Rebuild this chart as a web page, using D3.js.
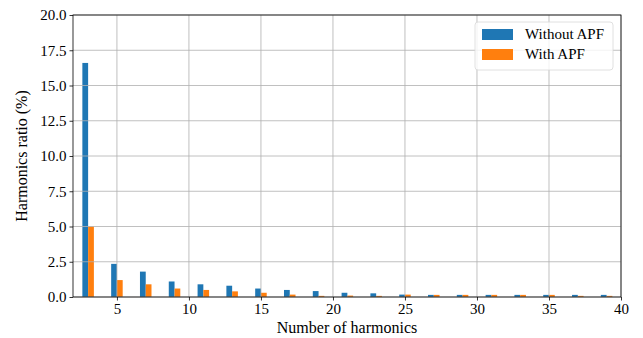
<!DOCTYPE html>
<html>
<head>
  <meta charset="UTF-8">
  <title>Harmonics ratio</title>
  <script src="https://d3js.org/d3.v7.min.js"></script>
  <style>
    body { margin: 0; background: #fff; }
    .axis path, .axis line { stroke: #000; stroke-width: 0.8; }
    .grid line { stroke: #b0b0b0; stroke-width: 0.8; }
  </style>
</head>
<body>
  <div id="chart"></div>
  <script>
    // harmonic orders and ratios (%)
    const harmonics = [3, 5, 7, 9, 11, 13, 15, 17, 19, 21, 23, 25, 27, 29, 31, 33, 35, 37, 39];
    const withoutAPF = [16.6, 2.35, 1.8, 1.1, 0.9, 0.8, 0.6, 0.5, 0.42, 0.3, 0.26, 0.17, 0.15, 0.15, 0.15, 0.15, 0.15, 0.15, 0.15];
    const withAPF = [5.0, 1.2, 0.9, 0.6, 0.5, 0.4, 0.3, 0.17, 0.08, 0.1, 0.08, 0.17, 0.15, 0.15, 0.15, 0.15, 0.15, 0.08, 0.08];
    const xTicks = [5, 10, 15, 20, 25, 30, 35, 40];
    const yTicks = [0, 2.5, 5, 7.5, 10, 12.5, 15, 17.5, 20];
    const seriesNames = ["Without APF", "With APF"];
    const colors = ["#1f77b4", "#ff7f0e"];

    const FONT = "'Liberation Serif', 'Times New Roman', Times, serif";
    const W = 643, H = 338;
    const margin = { top: 15, right: 22, bottom: 41, left: 73 };
    const width = W - margin.left - margin.right,
      height = H - margin.top - margin.bottom;
    const barW = 0.4;

    const svg = d3.select("#chart").append("svg")
      .attr("width", W).attr("height", H)
      .attr("font-family", FONT);
    const g = svg.append("g")
      .attr("transform", `translate(${margin.left},${margin.top})`);

    const x = d3.scaleLinear().domain([1.95, 40]).range([0, width]);
    const y = d3.scaleLinear().domain([0, 20]).range([height, 0]);

    // bars
    [withoutAPF, withAPF].forEach((vals, s) => {
      g.selectAll(".bar" + s)
        .data(harmonics)
        .enter().append("rect")
        .attr("class", "bar" + s)
        .attr("x", d => x(d - barW + s * barW))
        .attr("width", x(barW) - x(0))
        .attr("y", (d, i) => y(vals[i]))
        .attr("height", (d, i) => y(0) - y(vals[i]))
        .attr("fill", colors[s]);
    });

    // grid (drawn above bars like matplotlib default)
    const grid = g.append("g").attr("class", "grid");
    grid.selectAll(".gx").data(xTicks).enter().append("line")
      .attr("x1", d => x(d)).attr("x2", d => x(d))
      .attr("y1", 0).attr("y2", height);
    grid.selectAll(".gy").data(yTicks).enter().append("line")
      .attr("x1", 0).attr("x2", width)
      .attr("y1", d => y(d)).attr("y2", d => y(d));

    // axes
    g.append("g").attr("class", "axis")
      .attr("transform", `translate(0,${height})`)
      .call(d3.axisBottom(x).tickValues(xTicks).tickSize(3.5).tickPadding(3).tickFormat(d3.format("d")))
      .attr("font-family", FONT).attr("font-size", 15)
      .call(a => a.select(".domain").remove())
      .call(a => a.selectAll("text").attr("fill", "#000"));
    g.append("g").attr("class", "axis")
      .call(d3.axisLeft(y).tickValues(yTicks).tickSize(3.5).tickPadding(3).tickFormat(d3.format(".1f")))
      .attr("font-family", FONT).attr("font-size", 15)
      .call(a => a.select(".domain").remove())
      .call(a => a.selectAll("text").attr("fill", "#000"));

    // frame
    g.append("rect")
      .attr("width", width).attr("height", height)
      .attr("fill", "none").attr("stroke", "#000").attr("stroke-width", 0.8);

    // labels
    svg.append("text")
      .attr("x", margin.left + width / 2).attr("y", 333)
      .attr("text-anchor", "middle").attr("font-size", 16)
      .text("Number of harmonics");
    svg.append("text")
      .attr("transform", `translate(27,${margin.top + height / 2}) rotate(-90)`)
      .attr("text-anchor", "middle").attr("font-size", 16)
      .text("Harmonics ratio (%)");

    // legend
    const lg = svg.append("g").attr("transform", "translate(475,22)");
    lg.append("rect")
      .attr("width", 138).attr("height", 48).attr("rx", 3)
      .attr("fill", "#fff").attr("fill-opacity", 0.8)
      .attr("stroke", "#d8d8d8").attr("stroke-width", 0.8);
    seriesNames.forEach((name, i) => {
      lg.append("rect")
        .attr("x", 7).attr("y", 7 + i * 20)
        .attr("width", 31).attr("height", 11)
        .attr("fill", colors[i]);
      lg.append("text")
        .attr("x", 50).attr("y", 17 + i * 20)
        .attr("font-size", 15)
        .text(name);
    });
  </script>
</body>
</html>
